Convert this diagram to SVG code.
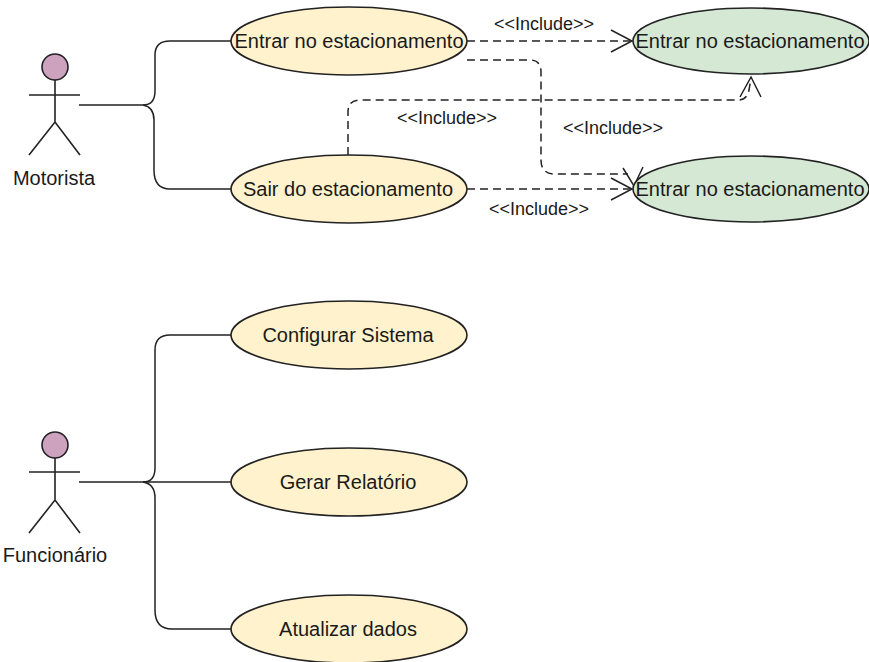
<svg xmlns="http://www.w3.org/2000/svg" width="869" height="662" viewBox="0 0 869 662">
<style>
text{font-family:"Liberation Sans",Arial,sans-serif;fill:#1a1a1a;text-anchor:middle}
.n{font-size:20px}.s{font-size:18px}
.y{fill:#fff2cc;stroke:#222;stroke-width:1.6}
.g{fill:#d5e8d4;stroke:#222;stroke-width:1.6}
.a{fill:none;stroke:#222;stroke-width:1.6}
.h{fill:#cda2be;stroke:#222;stroke-width:1.6}
.c{fill:none;stroke:#222;stroke-width:1.5}
.d{fill:none;stroke:#222;stroke-width:1.5;stroke-dasharray:8 5}
</style>
<rect width="869" height="662" fill="#fff"/>
<g id="connectors">
<path class="c" d="M79 105H143Q155 105 155 91V55Q155 41 170 41H231"/>
<path class="c" d="M143 105Q154 107 154 120V170Q154 189 170 189H231"/>
<path class="c" d="M79 482H143Q155 482 155 468V350Q155 335 170 335H231"/>
<path class="c" d="M143 482H231"/>
<path class="c" d="M143 482Q155 484 155 498V610Q155 629 172 629H231"/>
<path class="d" d="M467 41H630"/>
<path class="c" d="M611 30L632 41L611 52"/>
<path class="d" d="M467 60H530Q541 60 541 72V160Q541 174 555 174H628"/>
<path class="c" d="M623 168L634 186L643 167"/>
<path class="d" d="M348 155V112Q348 100 360 100H738Q747 100 749 90L751 78"/>
<path class="c" d="M740 97L751 77L761 97"/>
<path class="d" d="M467 189H630"/>
<path class="c" d="M611 178L632 189L611 200"/>
<text class="s" x="544" y="30">&lt;&lt;Include&gt;&gt;</text>
<text class="s" x="447" y="124">&lt;&lt;Include&gt;&gt;</text>
<text class="s" x="613" y="134">&lt;&lt;Include&gt;&gt;</text>
<text class="s" x="539" y="215">&lt;&lt;Include&gt;&gt;</text>
</g>
<g id="motorista">
<circle class="h" cx="55" cy="67" r="13"/>
<path class="a" d="M55 80V122M29 95H80M29 155L55 122L80 155"/>
<text class="n" x="54" y="185">Motorista</text>
</g>
<g id="funcionario">
<circle class="h" cx="55" cy="445" r="13"/>
<path class="a" d="M55 458V500M29 472H80M29 533L55 500L80 533"/>
<text class="n" x="55" y="562">Funcionário</text>
</g>
<g id="uc1"><ellipse class="y" cx="349" cy="41" rx="118" ry="34"/><text class="n" x="349" y="48">Entrar no estacionamento</text></g>
<g id="uc2"><ellipse class="y" cx="349" cy="189" rx="118" ry="34"/><text class="n" x="348" y="196">Sair do estacionamento</text></g>
<g id="uc3"><ellipse class="g" cx="751" cy="41" rx="118" ry="33"/><text class="n" x="750" y="48">Entrar no estacionamento</text></g>
<g id="uc4"><ellipse class="g" cx="751" cy="189" rx="118" ry="33"/><text class="n" x="750" y="196">Entrar no estacionamento</text></g>
<g id="uc5"><ellipse class="y" cx="349" cy="335" rx="118" ry="34"/><text class="n" x="348" y="342">Configurar Sistema</text></g>
<g id="uc6"><ellipse class="y" cx="349" cy="482" rx="118" ry="34"/><text class="n" x="348" y="489">Gerar Relatório</text></g>
<g id="uc7"><ellipse class="y" cx="349" cy="629" rx="118" ry="34"/><text class="n" x="348" y="636">Atualizar dados</text></g>
</svg>
